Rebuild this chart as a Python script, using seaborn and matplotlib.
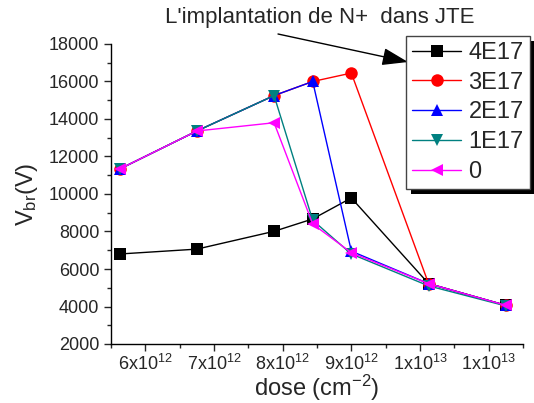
import numpy as np
import pandas as pd
import seaborn as sns
import matplotlib.pyplot as plt
from matplotlib.patches import Rectangle
from matplotlib.ticker import MultipleLocator, FixedLocator, FixedFormatter

# --- data ---
dose = [5.625e12, 6.75e12, 7.875e12, 8.4375e12, 9.0e12, 10.125e12, 11.25e12]
v_4e17 = [6800, 7060, 8010, 8670, 9790, 5220, 4060]
v_3e17 = [11330, 13360, 15250, 16000, 16450, 5220, 4060]
v_2e17 = [11330, 13360, 15250, 16000, 6950, 5220, 4060]
v_1e17 = [11330, 13360, 15250, 8600, 6800, 5100, 4030]
v_0 = [11330, 13360, 13800, 8400, 6870, 5220, 4060]

series_names = ['4E17', '3E17', '2E17', '1E17', '0']
series_vals = [v_4e17, v_3e17, v_2e17, v_1e17, v_0]

xtick_pos = [6e12, 7e12, 8e12, 9e12, 1e13, 1.1e13]
xtick_labels = ['6x10$^{12}$', '7x10$^{12}$', '8x10$^{12}$', '9x10$^{12}$',
                '1x10$^{13}$', '1x10$^{13}$']

colors = {'4E17': '#000000', '3E17': '#ff0000', '2E17': '#0000ff',
          '1E17': '#008080', '0': '#ff00ff'}
markers = {'4E17': 's', '3E17': 'o', '2E17': '^', '1E17': 'v', '0': '<'}

# long-form table for seaborn
rows = []
for name, vals in zip(series_names, series_vals):
    for d, v in zip(dose, vals):
        rows.append({'dose': d, 'Vbr': v, 'Nd': name})
df = pd.DataFrame(rows)

# --- figure ---
sns.set_style('ticks')
plt.rcParams['font.family'] = ['Liberation Sans', 'DejaVu Sans']
plt.rcParams['mathtext.default'] = 'regular'

fig = plt.figure(figsize=(5.34, 4.03), dpi=100)
ax = fig.add_axes([111 / 534, 1 - 344 / 403, 412 / 534, 300 / 403])

sns.lineplot(data=df, x='dose', y='Vbr', hue='Nd', style='Nd',
             hue_order=series_names, style_order=series_names,
             palette=colors, markers=markers, dashes=False,
             markersize=9, markeredgewidth=0, linewidth=1,
             legend=False, ax=ax)

ax.set_xlim(5.5e12, 11.5e12)
ax.set_ylim(2000, 18000)
ax.xaxis.set_major_locator(FixedLocator(xtick_pos))
ax.xaxis.set_major_formatter(FixedFormatter(xtick_labels))
ax.xaxis.set_minor_locator(MultipleLocator(0.5e12))
ax.yaxis.set_major_locator(MultipleLocator(2000))
ax.yaxis.set_minor_locator(MultipleLocator(1000))
ax.tick_params(which='major', length=5, width=1, labelsize=13, direction='out')
ax.tick_params(which='minor', length=3, width=1, direction='out')
ax.tick_params(axis='x', which='major', pad=2)
sns.despine(ax=ax)
for s in ['left', 'bottom']:
    ax.spines[s].set_linewidth(1)
    ax.spines[s].set_color('black')

ax.set_xlabel('dose (cm$^{-2}$)', fontsize=17, labelpad=-1)
ax.set_ylabel('V$_{br}$(V)', fontsize=17, labelpad=6)

leg = ax.legend(handles=ax.get_lines()[:5], labels=series_names,
                loc='upper left', bbox_to_anchor=(406 / 534, 1 - 36 / 403),
                bbox_transform=fig.transFigure, borderaxespad=0,
                fontsize=17, frameon=True, fancybox=False, shadow=False,
                edgecolor='#444444', framealpha=1,
                handlelength=2.1, handletextpad=0.3, labelspacing=0.33,
                borderpad=0.25)
leg.get_frame().set_linewidth(1)

# thick black drop shadow like the original (Origin style)
fig.canvas.draw()
bb = leg.get_window_extent()
ax.add_patch(Rectangle((bb.x0 + 5, bb.y0 - 5), bb.width, bb.height,
                       transform=None, facecolor='black', edgecolor='none',
                       clip_on=False, zorder=4.9))

fig.text(320 / 534, 1 - 18 / 403, "L'implantation de N+  dans JTE",
         ha='center', va='center', fontsize=16)
ax.annotate('', xy=(408 / 534, 1 - 62 / 403), xycoords='figure fraction',
            xytext=(278 / 534, 1 - 34 / 403), textcoords='figure fraction',
            arrowprops=dict(arrowstyle='-|>,head_length=0.8,head_width=0.27',
                            mutation_scale=20, color='black', lw=1,
                            shrinkA=0, shrinkB=0))

fig.savefig('out.png', dpi=100)
